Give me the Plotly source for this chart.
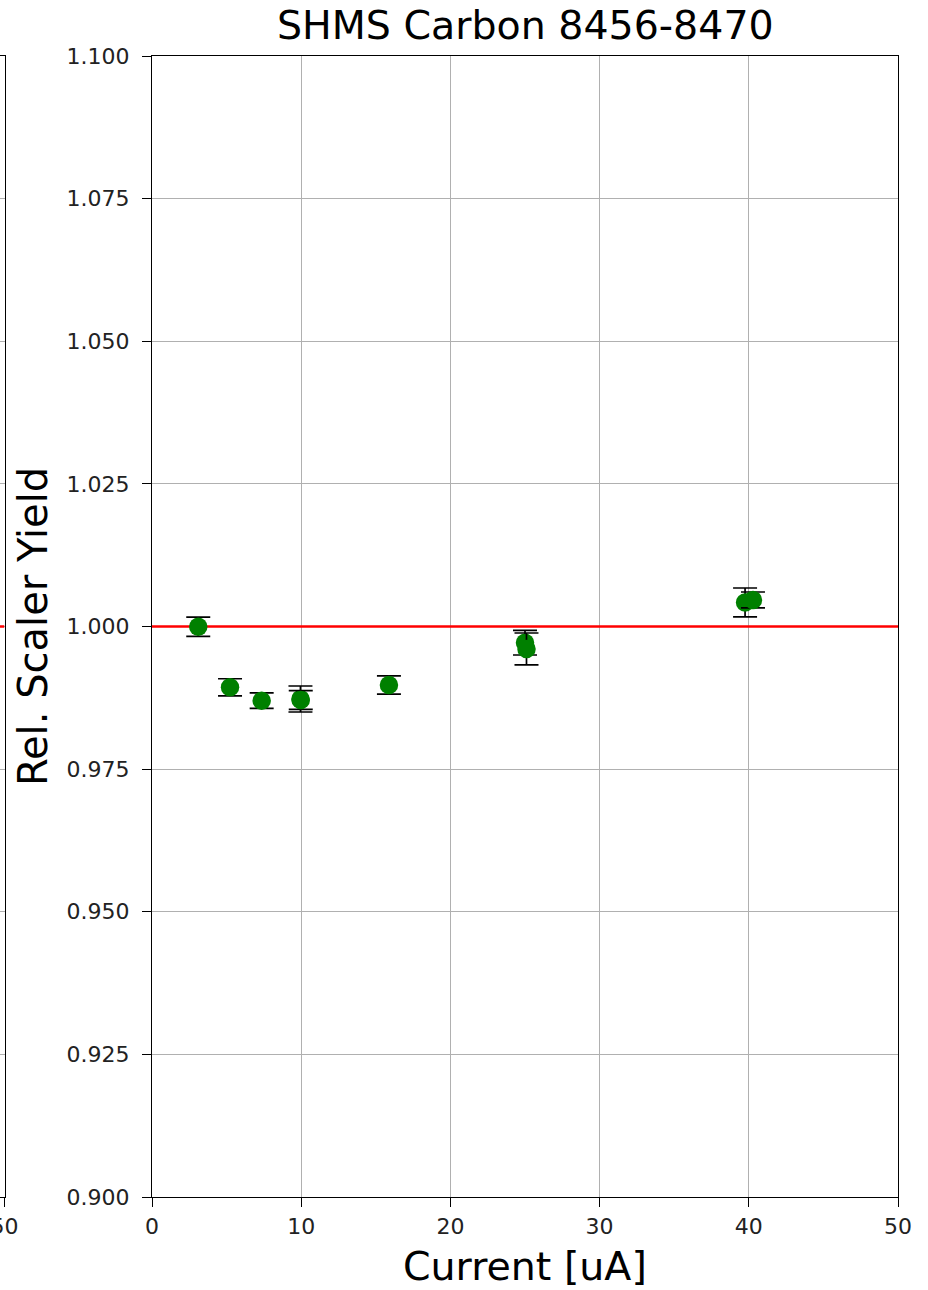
import plotly.graph_objects as go

# Relative scaler yield vs beam current, SHMS carbon runs 8456-8470
current_uA = [3.10, 5.23, 7.35, 9.95, 9.97, 15.88, 25.00, 25.10, 39.75, 40.28]
rel_yield = [0.99996, 0.98934, 0.98700, 0.98729, 0.98712, 0.98975,
             0.99716, 0.99606, 1.00421, 1.00465]
yield_err = [0.00170, 0.00150, 0.00135, 0.00228, 0.00165, 0.00160,
             0.00216, 0.00280, 0.00254, 0.00140]

reference_level = 1.0
x_ticks = [0, 10, 20, 30, 40, 50]
y_ticks = [0.900, 0.925, 0.950, 0.975, 1.000, 1.025, 1.050, 1.075, 1.100]

title_text = "SHMS Carbon 8456-8470"
x_title = "Current [uA]"
y_title = "Rel. Scaler Yield"

W, H = 928, 1290
FONT = "DejaVu Sans"
GRID = "#b0b0b0"

def px_x(p):
    return p / W

def px_y(p):
    return 1 - p / H

fig = go.Figure()

# neighbouring panel (only its right edge is in view)
fig.add_trace(go.Scatter(
    x=[0, 50], y=[reference_level, reference_level], mode="lines",
    line=dict(color="red", width=2.5), xaxis="x2", yaxis="y2",
    showlegend=False, hoverinfo="skip", cliponaxis=True))

# reference line at unity
fig.add_trace(go.Scatter(
    x=[x_ticks[0], x_ticks[-1]], y=[reference_level, reference_level],
    mode="lines", line=dict(color="red", width=2.5),
    showlegend=False, hoverinfo="skip"))

# one errorbar trace per measurement so later runs sit on top
for xv, yv, ev in zip(current_uA, rel_yield, yield_err):
    fig.add_trace(go.Scatter(
        x=[xv], y=[yv], mode="markers",
        marker=dict(color="green", size=18.5, line=dict(width=0)),
        error_y=dict(type="data", array=[ev], symmetric=True,
                     color="black", thickness=1.7, width=12),
        showlegend=False))

axis_common = dict(
    showline=True, linecolor="black", linewidth=1.3, mirror=True,
    ticks="outside", ticklen=9, tickwidth=1.3, tickcolor="black",
    showgrid=True, gridcolor=GRID, gridwidth=1.3, zeroline=False,
    automargin=False,
    tickfont=dict(family=FONT, size=22, color="#222222"),
)

fig.update_layout(
    width=W, height=H,
    margin=dict(l=0, r=0, t=0, b=0),
    paper_bgcolor="white", plot_bgcolor="white",
    font=dict(family=FONT, color="black"),
    xaxis=dict(axis_common, domain=[px_x(152), px_x(898)],
               range=[0, 50], tickvals=x_ticks,
               ticktext=[str(v) for v in x_ticks]),
    yaxis=dict(axis_common, domain=[px_y(1197), px_y(56)],
               range=[0.9, 1.1], tickvals=y_ticks,
               ticktext=[f"{v:.3f}" for v in y_ticks],
               ticklabelstandoff=8),
    xaxis2=dict(axis_common, domain=[0, px_x(4.5)], anchor="y2",
                range=[49.5, 50], tickvals=[50], ticktext=["50"],
                showgrid=False, ticklabeloverflow="allow"),
    yaxis2=dict(axis_common, domain=[px_y(1197), px_y(56)], anchor="x2",
                side="right", mirror=False,
                range=[0.9, 1.1], tickvals=y_ticks, showticklabels=False,
                ticks=""),
    annotations=[
        dict(text=title_text, x=px_x(525), y=px_y(25), xref="paper",
             yref="paper", showarrow=False, xanchor="center",
             yanchor="middle", font=dict(family=FONT, size=39.5)),
        dict(text=x_title, x=px_x(525), y=px_y(1266), xref="paper",
             yref="paper", showarrow=False, xanchor="center",
             yanchor="middle", font=dict(family=FONT, size=39.5)),
        dict(text=y_title, x=px_x(33), y=px_y(627), xref="paper",
             yref="paper", showarrow=False, xanchor="center",
             yanchor="middle", textangle=-90,
             font=dict(family=FONT, size=40)),
    ],
)

fig.write_html("out.html")
